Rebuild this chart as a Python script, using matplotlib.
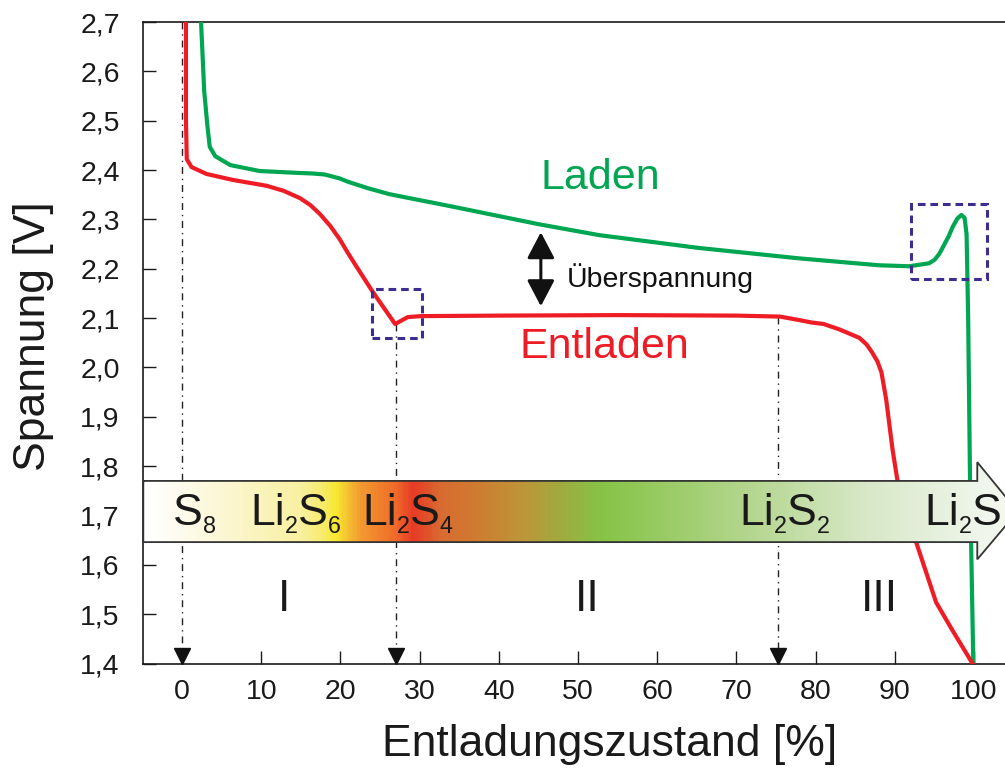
import numpy as np
import matplotlib
matplotlib.use("Agg")
import matplotlib.pyplot as plt
from matplotlib.patches import Polygon, Rectangle
from matplotlib.colors import LinearSegmentedColormap
from matplotlib.ticker import FuncFormatter
import matplotlib.transforms as mtransforms

plt.rcParams['font.family'] = ['Liberation Sans', 'DejaVu Sans']

# ---- data ----
charge_x = [2.4, 2.8, 3.2, 3.5, 4.2, 6.1, 9.8, 14.9, 16.5, 18.0, 19.9, 21.0, 23.5, 26.2,
            33.8, 45.1, 52.7, 65.3, 77.9, 88.0, 91.8, 94.3, 95.0, 95.6, 96.8, 97.3,
            97.9, 98.4, 98.8, 99.05, 99.25, 99.5, 99.9]
charge_y = [2.70, 2.56, 2.49, 2.447, 2.428, 2.41, 2.398, 2.394, 2.393, 2.391, 2.383,
            2.376, 2.363, 2.351, 2.327, 2.29, 2.268, 2.242, 2.221, 2.207, 2.205, 2.211,
            2.218, 2.23, 2.266, 2.285, 2.302, 2.309, 2.303, 2.27, 2.10, 1.75, 1.40]

discharge_x = [0.5, 0.5, 0.6, 1.2, 3.1, 6.4, 10.7, 12.8, 14.9, 16.2, 17.4, 18.7, 19.9,
               20.9, 21.8, 24.0, 25.6, 26.9, 28.5, 30.2, 40.0, 55.0, 70.0, 75.5, 77.9,
               79.5, 81.0, 83.0, 85.5, 86.4, 87.1, 87.8, 88.3, 88.9, 89.7, 90.3, 92.7,
               95.2, 97.2, 99.8]
discharge_y = [2.70, 2.50, 2.422, 2.406, 2.392, 2.38, 2.368, 2.358, 2.343, 2.329,
               2.311, 2.287, 2.26, 2.233, 2.21, 2.155, 2.118, 2.088, 2.102, 2.104,
               2.105, 2.106, 2.105, 2.103, 2.096, 2.091, 2.088, 2.077, 2.06, 2.047,
               2.031, 2.012, 1.99, 1.935, 1.834, 1.773, 1.645, 1.524, 1.469, 1.40]

marker_x = [0.0, 27.0, 75.3]          # dash-dot guide lines
marker_top = [2.70, 2.088, 2.103]

species_left = [-1.1, 8.6, 22.8, 70.4, 93.7]
species_parts = [[("S", 0), ("8", 1)],
                 [("Li", 0), ("2", 1), ("S", 0), ("6", 1)],
                 [("Li", 0), ("2", 1), ("S", 0), ("4", 1)],
                 [("Li", 0), ("2", 1), ("S", 0), ("2", 1)],
                 [("Li", 0), ("2", 1), ("S", 0)]]

stage_labels = ["I", "II", "III"]
stage_x = [12.9, 51.1, 88.0]

yticks = [1.4, 1.5, 1.6, 1.7, 1.8, 1.9, 2.0, 2.1, 2.2, 2.3, 2.4, 2.5, 2.6, 2.7]
xticks = [0, 10, 20, 30, 40, 50, 60, 70, 80, 90, 100]

grad_x = [-4.9, -0.9, 7.3, 14.9, 17.4, 19.3, 20.8, 22.4, 26.9, 29.1, 32.5, 36.7,
          42.6, 48.9, 53.1, 70.0, 86.8, 101.5, 106.0]
grad_c = ['#ffffff', '#fefcf0', '#fbf5c8', '#f9f0a0', '#f8ec70', '#f7e930', '#f6c030',
          '#f39a30', '#ef6a2a', '#e83a25', '#d96a30', '#d07a30', '#bf9438', '#9ab040',
          '#86c446', '#b0d488', '#d8e8c8', '#f0f6ec', '#f6faf3']

GREEN = '#00a651'
RED = '#ee1c25'
BOX = '#3b2e8e'

XMIN, XMAX = -4.89, 103.9
YMIN, YMAX = 1.4, 2.7

fig = plt.figure(figsize=(10.05, 7.69), dpi=100)
ax = fig.add_axes([143.3 / 1005, 105.5 / 769, 1 - 143.3 / 1005, 641.5 / 769])

# curves
ax.plot(charge_x, charge_y, color=GREEN, lw=3.0, zorder=3, solid_joinstyle='round')
ax.plot(discharge_x, discharge_y, color=RED, lw=3.0, zorder=3, solid_joinstyle='round')

# guide lines with arrow heads
tri_trans = mtransforms.offset_copy(ax.transData, fig=fig, y=5.5, units='points')
for mx, mt in zip(marker_x, marker_top):
    ax.plot([mx, mx], [mt, YMIN], color='#222222', lw=1.0,
            linestyle=(0, (5, 3.5, 1, 3.5)), zorder=2)
    ax.plot([mx], [YMIN], marker='v', ms=11, color='#111111', transform=tri_trans,
            zorder=4, clip_on=False)

# dashed boxes
ax.add_patch(Rectangle((24.0, 2.059), 6.3, 0.100, fill=False, ec=BOX, lw=2.2,
                       linestyle=(0, (2.5, 1.6)), zorder=4))
ax.add_patch(Rectangle((92.0, 2.179), 9.6, 0.152, fill=False, ec=BOX, lw=2.2,
                       linestyle=(0, (2.5, 1.6)), zorder=4))

# Überspannung double arrow
ax.annotate('', xy=(45.3, 2.274), xytext=(45.3, 2.124),
            arrowprops=dict(arrowstyle='<|-|>,head_length=0.8,head_width=0.42',
                            mutation_scale=20, color='#111111', lw=2.2,
                            shrinkA=0, shrinkB=0), zorder=5)
ax.text(48.6, 2.181, 'Überspannung', fontsize=20.5, color='#111111',
        ha='left', va='center')

ax.text(52.8, 2.384, 'Laden', fontsize=31, color=GREEN, ha='center', va='center')
ax.text(53.3, 2.041, 'Entladen', fontsize=31, color=RED, ha='center', va='center')

# gradient arrow band
band_poly = Polygon([(XMIN, 1.770), (100.4, 1.770), (100.4, 1.808), (105.5, 1.708),
                     (100.4, 1.611), (100.4, 1.646), (XMIN, 1.646)], closed=True,
                    fc='none', ec='#333333', lw=1.3, zorder=7, clip_on=False)
ax.add_patch(band_poly)
pos = [(g - grad_x[0]) / (grad_x[-1] - grad_x[0]) for g in grad_x]
cmap = LinearSegmentedColormap.from_list('band', list(zip(pos, grad_c)))
img = ax.imshow(np.linspace(0, 1, 600)[None, :], extent=[grad_x[0], grad_x[-1], 1.60, 1.82],
                cmap=cmap, aspect='auto', zorder=6, interpolation='bilinear', origin='lower')
img.set_clip_path(band_poly)

# species labels
MAIN, SUB = 32, 16.8
base_y = 1.6805
for left, parts in zip(species_left, species_parts):
    first = ax.text(left, base_y, parts[0][0], fontsize=MAIN, color='#1a1a1a',
                    ha='left', va='baseline', zorder=8)
    prev = first
    for s, is_sub in parts[1:]:
        if is_sub:
            t = ax.annotate(s, xy=(1, 0), xycoords=(prev, first), xytext=(0, -2.5),
                            textcoords='offset points', fontsize=SUB, color='#1a1a1a',
                            ha='left', va='bottom', zorder=8)
        else:
            t = ax.annotate(s, xy=(1, 0), xycoords=(prev, first), fontsize=MAIN,
                            color='#1a1a1a', ha='left', va='bottom', zorder=8)
        prev = t

for lab, sx in zip(stage_labels, stage_x):
    ax.text(sx, 1.53, lab, fontsize=32, color='#1a1a1a', ha='center', va='center')

# axes styling
ax.set_xlim(XMIN, XMAX)
ax.set_ylim(YMIN, YMAX)
ax.set_xticks(xticks)
ax.set_yticks(yticks)
ax.yaxis.set_major_formatter(FuncFormatter(lambda v, p: f"{v:.1f}".replace('.', ',')))
ax.tick_params(direction='in', length=9.5, width=1.0, labelsize=20.5, colors='#1a1a1a')
ax.tick_params(axis='x', pad=11)
ax.tick_params(axis='y', pad=17)
ax.spines['right'].set_visible(False)
for s in ['left', 'top', 'bottom']:
    ax.spines[s].set_linewidth(1.2)
    ax.spines[s].set_color('#1a1a1a')

ax.set_xlabel('Entladungszustand [%]', fontsize=32, color='#1a1a1a')
ax.xaxis.label.set_va('center')
ax.xaxis.set_label_coords(0.5416, -0.127)
ax.set_ylabel('Spannung [V]', fontsize=32, color='#1a1a1a')
ax.yaxis.label.set_va('center')
ax.yaxis.set_label_coords(-0.128, 0.511)

fig.savefig('out.png', dpi=100)
